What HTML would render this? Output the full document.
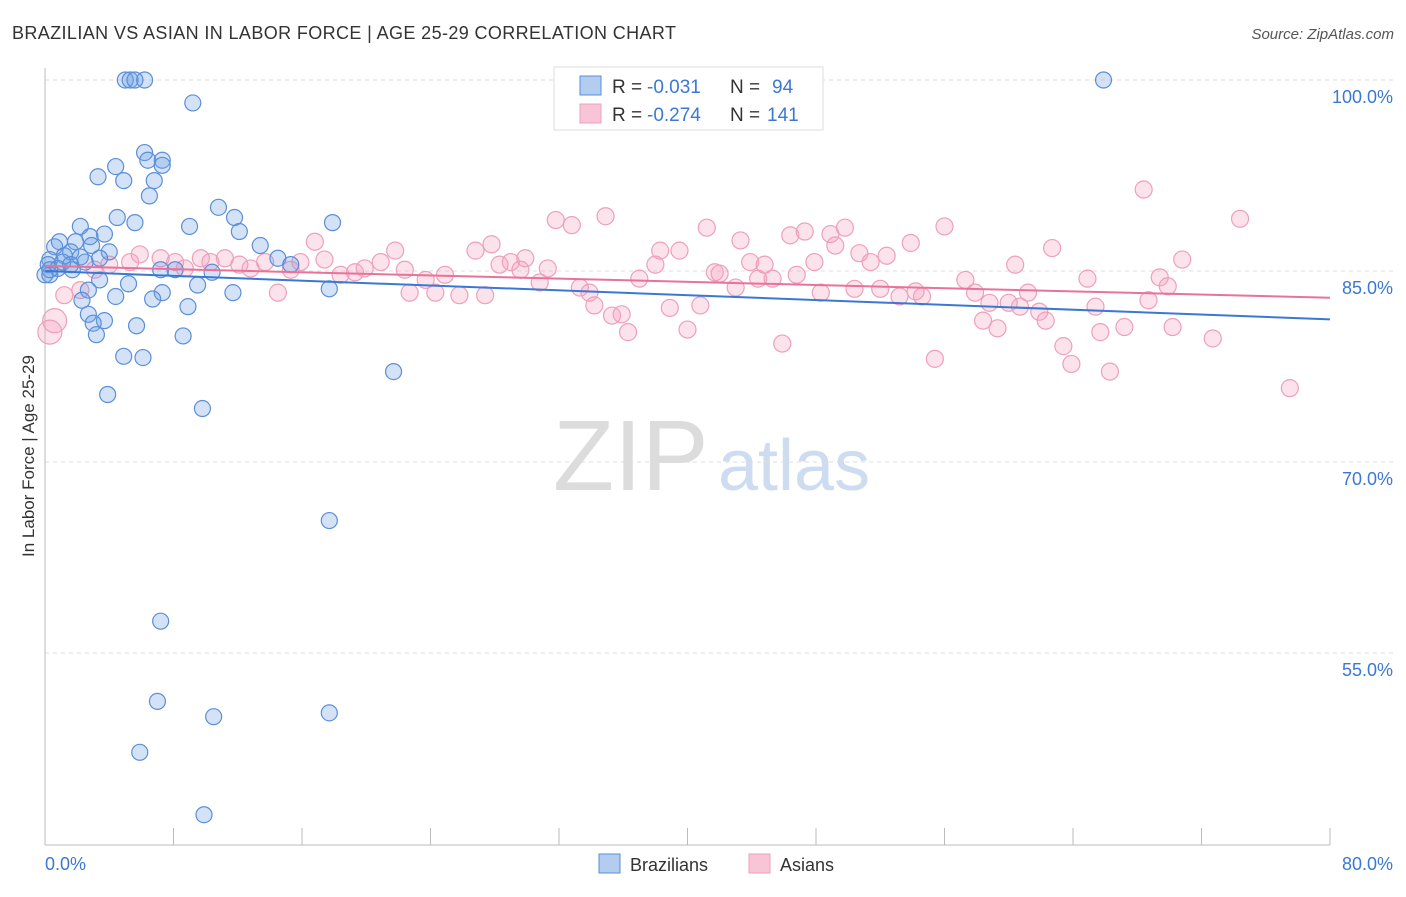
<!DOCTYPE html>
<html><head><meta charset="utf-8"><style>
body{margin:0;background:#fff;font-family:"Liberation Sans",sans-serif;}
svg text{font-family:"Liberation Sans",sans-serif;}
</style></head><body>
<svg id="chart" width="1406" height="892" xmlns="http://www.w3.org/2000/svg">
<text x="12" y="39" font-size="18" fill="#333" textLength="664" lengthAdjust="spacing">BRAZILIAN VS ASIAN IN LABOR FORCE | AGE 25-29 CORRELATION CHART</text>
<text x="1394" y="39" font-size="15" fill="#555" text-anchor="end" font-style="italic">Source: ZipAtlas.com</text>
<g>
<text x="553" y="490" font-size="100" fill="#dcdcdc" font-family="Liberation Serif">ZIP</text>
<text x="718" y="490" font-size="72" fill="#cddcf0">atlas</text>
</g>
<g id="grid"></g><g id="axes"></g><g id="pts"></g><g id="trends"></g>
<text transform="translate(34,456) rotate(-90)" font-size="17" fill="#333" text-anchor="middle">In Labor Force | Age 25-29</text>
<g>
<rect x="554" y="67" width="269" height="63" fill="#fff" stroke="#ddd"/>
<rect x="580" y="76" width="21" height="19" fill="#b3cdf0" stroke="#5b8fd9"/>
<rect x="580" y="104" width="21" height="19" fill="#f9c4d5" stroke="#eea0b9"/>
<text x="612" y="93" font-size="19" fill="#333">R =</text>
<text x="647" y="93" font-size="19" fill="#3a78d4">-0.031</text>
<text x="730" y="93" font-size="19" fill="#333">N =</text>
<text x="772" y="93" font-size="19" fill="#3a78d4">94</text>
<text x="612" y="121" font-size="19" fill="#333">R =</text>
<text x="647" y="121" font-size="19" fill="#3a78d4">-0.274</text>
<text x="730" y="121" font-size="19" fill="#333">N =</text>
<text x="767" y="121" font-size="19" fill="#3a78d4">141</text>
</g>
<g>
<rect x="599" y="854" width="21" height="19" fill="#b3cdf0" stroke="#5b8fd9"/>
<text x="630" y="871" font-size="18" fill="#333">Brazilians</text>
<rect x="749" y="854" width="21" height="19" fill="#f9c4d5" stroke="#eea0b9"/>
<text x="780" y="871" font-size="18" fill="#333">Asians</text>
</g>
</svg>
<script>
const yTicks=[100,85,70,55];
const yTickLabels=["100.0%","85.0%","70.0%","55.0%"];
const xTicks=[0,8,16,24,32,40,48,56,64,72,80];
const blueX=[5.0,5.3,6.2,5.6,65.9,9.2,6.2,6.4,7.3,7.3,4.4,3.3,4.9,6.8,6.5,10.8,4.5,11.8,5.6,17.9,2.2,9.0,12.1,3.7,2.8,0.9,1.9,2.9,13.4,0.6,1.6,4.0,1.2,2.2,0.3,3.4,14.5,15.3,0.2,0.8,1.7,7.2,8.1,10.4,0.3,3.4,5.2,9.5,2.7,4.4,7.3,11.7,17.7,6.7,2.3,8.9,2.7,3.7,3.0,5.7,3.2,8.6,4.9,6.1,21.7,3.9,9.8,17.7,7.2,7.0,17.7,10.5,5.9,9.9,0,0.3,1.1,1.6,2.5];
const blueY=[100,100,100,100,100,98.2,94.3,93.7,93.7,93.3,93.2,92.4,92.1,92.1,90.9,90.0,89.2,89.2,88.8,88.8,88.5,88.5,88.1,87.9,87.7,87.3,87.3,87.0,87.0,86.9,86.5,86.5,86.2,86.1,85.9,86.0,86.0,85.5,85.5,85.2,85.1,85.1,85.1,84.9,84.7,84.3,84.0,83.9,83.5,83.0,83.3,83.3,83.6,82.8,82.7,82.2,81.6,81.1,80.9,80.7,80.0,79.9,78.3,78.2,77.1,75.3,74.2,65.4,57.5,51.2,50.3,50.0,47.2,42.3,84.7,85.1,85.7,85.5,85.7];
const pinkX=[0.6,0.3,1.2,2.2,3.1,4.0,5.3,5.9,7.2,8.1,8.7,9.7,10.3,11.2,12.1,12.8,13.7,14.5,15.3,15.9,16.8,17.4,18.4,19.3,19.9,20.9,21.8,22.4,22.7,23.7,24.3,24.9,25.8,26.8,27.4,27.8,28.3,29.0,29.6,29.9,30.8,31.3,31.8,32.8,33.3,33.9,34.2,34.9,35.3,35.9,36.3,37.0,38.0,38.3,38.9,39.5,40.0,40.8,41.2,41.7,42.0,43.0,43.3,43.9,44.4,44.8,45.3,45.9,46.4,46.8,47.3,47.9,48.3,48.9,49.2,49.8,50.4,50.7,51.4,52.0,52.4,53.2,53.9,54.2,54.6,55.4,56.0,57.3,57.9,58.4,58.8,59.3,60.0,60.4,60.7,61.2,61.9,62.3,62.7,63.4,63.9,64.9,65.4,65.7,66.3,67.2,68.4,68.7,69.4,69.9,70.2,70.8,72.7,74.4,77.5];
const pinkY=[81.1,80.2,83.1,83.5,85.1,85.5,85.7,86.3,86.0,85.7,85.2,86.0,85.7,86.0,85.5,85.2,85.7,83.3,85.1,85.7,87.3,85.9,84.7,84.9,85.2,85.7,86.6,85.1,83.3,84.3,83.3,84.7,83.1,86.6,83.1,87.1,85.5,85.7,85.1,86.0,84.1,85.2,89.0,88.6,83.7,83.3,82.3,89.3,81.5,81.6,80.2,84.4,85.5,86.6,82.1,86.6,80.4,82.3,88.4,84.9,84.8,83.7,87.4,85.7,84.4,85.5,84.4,79.3,87.8,84.7,88.1,85.7,83.3,87.9,87.0,88.4,83.6,86.4,85.7,83.6,86.2,83.0,87.2,83.4,83.0,78.1,88.5,84.3,83.3,81.1,82.5,80.5,82.5,85.5,82.2,83.3,81.8,81.1,86.8,79.1,77.7,84.4,82.2,80.2,77.1,80.6,91.4,82.7,84.5,83.8,80.6,85.9,79.7,89.1,75.8];
const blueTrend=[85.0,81.2];
const pinkTrend=[85.4,82.9];
const NS="http://www.w3.org/2000/svg";
const X=v=>45+v/80*1285;
const Y=v=>80+(100-v)/15*191;
function mk(tag,attrs,parent){const e=document.createElementNS(NS,tag);for(const k in attrs)e.setAttribute(k,attrs[k]);parent.appendChild(e);return e;}
const grid=document.getElementById('grid'),axes=document.getElementById('axes'),pts=document.getElementById('pts'),tr=document.getElementById('trends');
yTicks.forEach((t,i)=>{
 const l=mk('line',{x1:45,x2:1393,y1:Y(t),y2:Y(t),stroke:'#ddd','stroke-dasharray':'4,4'},grid);
 
 
 const tx=mk('text',{x:1393,y:Y(t)+23,'font-size':18,fill:'#3a78d4','text-anchor':'end'},grid);
 tx.textContent=yTickLabels[i];
 
 
});
const ax=mk('line',{x1:45,x2:45,y1:68,y2:845,stroke:'#bbb'},axes);


const bx=mk('line',{x1:45,x2:1330,y1:845,y2:845,stroke:'#bbb'},axes);


xTicks.forEach(t=>{
 const l=mk('line',{x1:X(t),x2:X(t),y1:828,y2:845,stroke:'#bbb'},axes);
 
 
});
const xl0=mk('text',{x:45,y:870,'font-size':18,fill:'#3a78d4'},axes);xl0.textContent='0.0%';


const xl1=mk('text',{x:1393,y:870,'font-size':18,fill:'#3a78d4','text-anchor':'end'},axes);xl1.textContent='80.0%';


pinkX.forEach((v,i)=>{
 const c=mk('circle',{cx:X(v),cy:Y(pinkY[i]),r:i<2?12:8.5,fill:'rgba(244,160,190,0.3)',stroke:'#eea0b9','stroke-width':1.2},pts);
 
 
});
blueX.forEach((v,i)=>{
 const c=mk('circle',{cx:X(v),cy:Y(blueY[i]),r:8,fill:'rgba(110,160,230,0.3)',stroke:'#5b8fd9','stroke-width':1.2},pts);
 
 
});
const bl=mk('line',{x1:X(0),x2:X(80),y1:Y(blueTrend[0]),y2:Y(blueTrend[1]),stroke:'#3a78d4','stroke-width':2},tr);


const pl=mk('line',{x1:X(0),x2:X(80),y1:Y(pinkTrend[0]),y2:Y(pinkTrend[1]),stroke:'#e8729a','stroke-width':2},tr);


</script>
</body></html>
